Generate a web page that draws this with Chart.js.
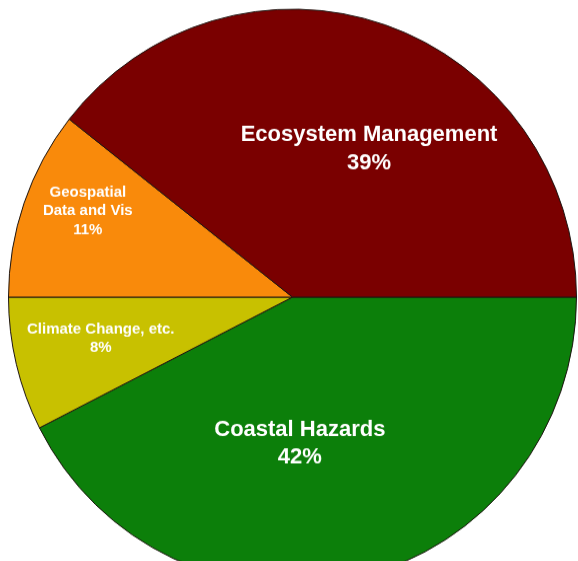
<!DOCTYPE html>
<html>
<head>
<meta charset="utf-8">
<script src="https://cdn.jsdelivr.net/npm/chart.js@4.4.1/dist/chart.umd.min.js"></script>
<style>
  html, body { margin: 0; padding: 0; background: #fff; overflow: hidden; }
  body { width: 578px; height: 561px; position: relative; }
  #wrap {
    position: absolute; left: 0; top: 0;
    width: 585px; height: 586px;
    transform: scaleY(1.014); transform-origin: 0 0;
  }
</style>
</head>
<body>
<div id="wrap"><canvas id="pieChart"></canvas></div>
<script>
// slices, clockwise from 3 o'clock
const categories = ['Coastal Hazards', 'Climate Change, etc.', 'Geospatial Data and Vis', 'Ecosystem Management'];
const labelLines = [
    ['Coastal Hazards'],
    ['Climate Change, etc.'],
    ['Geospatial', 'Data and Vis'],
    ['Ecosystem Management']
];
// slice sizes as drawn, and the rounded percentages printed on them
const shares = [42.5, 7.5, 10.6, 39.4];
const shownPct = ['42%', '8%', '11%', '39%'];
const sliceColors = ['#0c7f0a', '#c8c100', '#f98a0b', '#7a0000'];

// label placement: radius fraction, angle nudge (deg), font size, line height
const labelStyle = [
    { r: 0.51, nudge: 10.6, size: 22, lh: 27 },
    { r: 0.69, nudge: 1.6, size: 15, lh: 18 },
    { r: 0.78, nudge: 3.4, size: 15, lh: 18.5 },
    { r: 0.58, nudge: 8.6, size: 22, lh: 28 }
];

const sliceLabels = {
    id: 'sliceLabels',
    afterDatasetsDraw(chart) {
        const ctx = chart.ctx;
        const meta = chart.getDatasetMeta(0);
        meta.data.forEach((arc, i) => {
            const st = labelStyle[i];
            const mid = (arc.startAngle + arc.endAngle) / 2 + st.nudge * Math.PI / 180;
            const x = arc.x + Math.cos(mid) * arc.outerRadius * st.r;
            const y = arc.y + Math.sin(mid) * arc.outerRadius * st.r;
            const lines = labelLines[i].concat([shownPct[i]]);
            ctx.save();
            ctx.fillStyle = '#ffffff';
            ctx.font = 'bold ' + st.size + 'px "Liberation Sans", Arial, sans-serif';
            ctx.textAlign = 'center';
            ctx.textBaseline = 'middle';
            const top = y - (lines.length - 1) * st.lh / 2;
            lines.forEach((t, k) => ctx.fillText(t, x, top + k * st.lh));
            ctx.restore();
        });
    }
};

new Chart(document.getElementById('pieChart'), {
    type: 'pie',
    data: {
        labels: categories,
        datasets: [{
            data: shares,
            backgroundColor: sliceColors,
            borderColor: '#1c1410',
            borderWidth: 1
        }]
    },
    options: {
        responsive: true,
        maintainAspectRatio: false,
        animation: false,
        events: [],
        rotation: 90,
        layout: { padding: { left: 8, right: 8, top: 8, bottom: 8 } },
        plugins: {
            legend: { display: false },
            tooltip: { enabled: false }
        }
    },
    plugins: [sliceLabels]
});
</script>
</body>
</html>
